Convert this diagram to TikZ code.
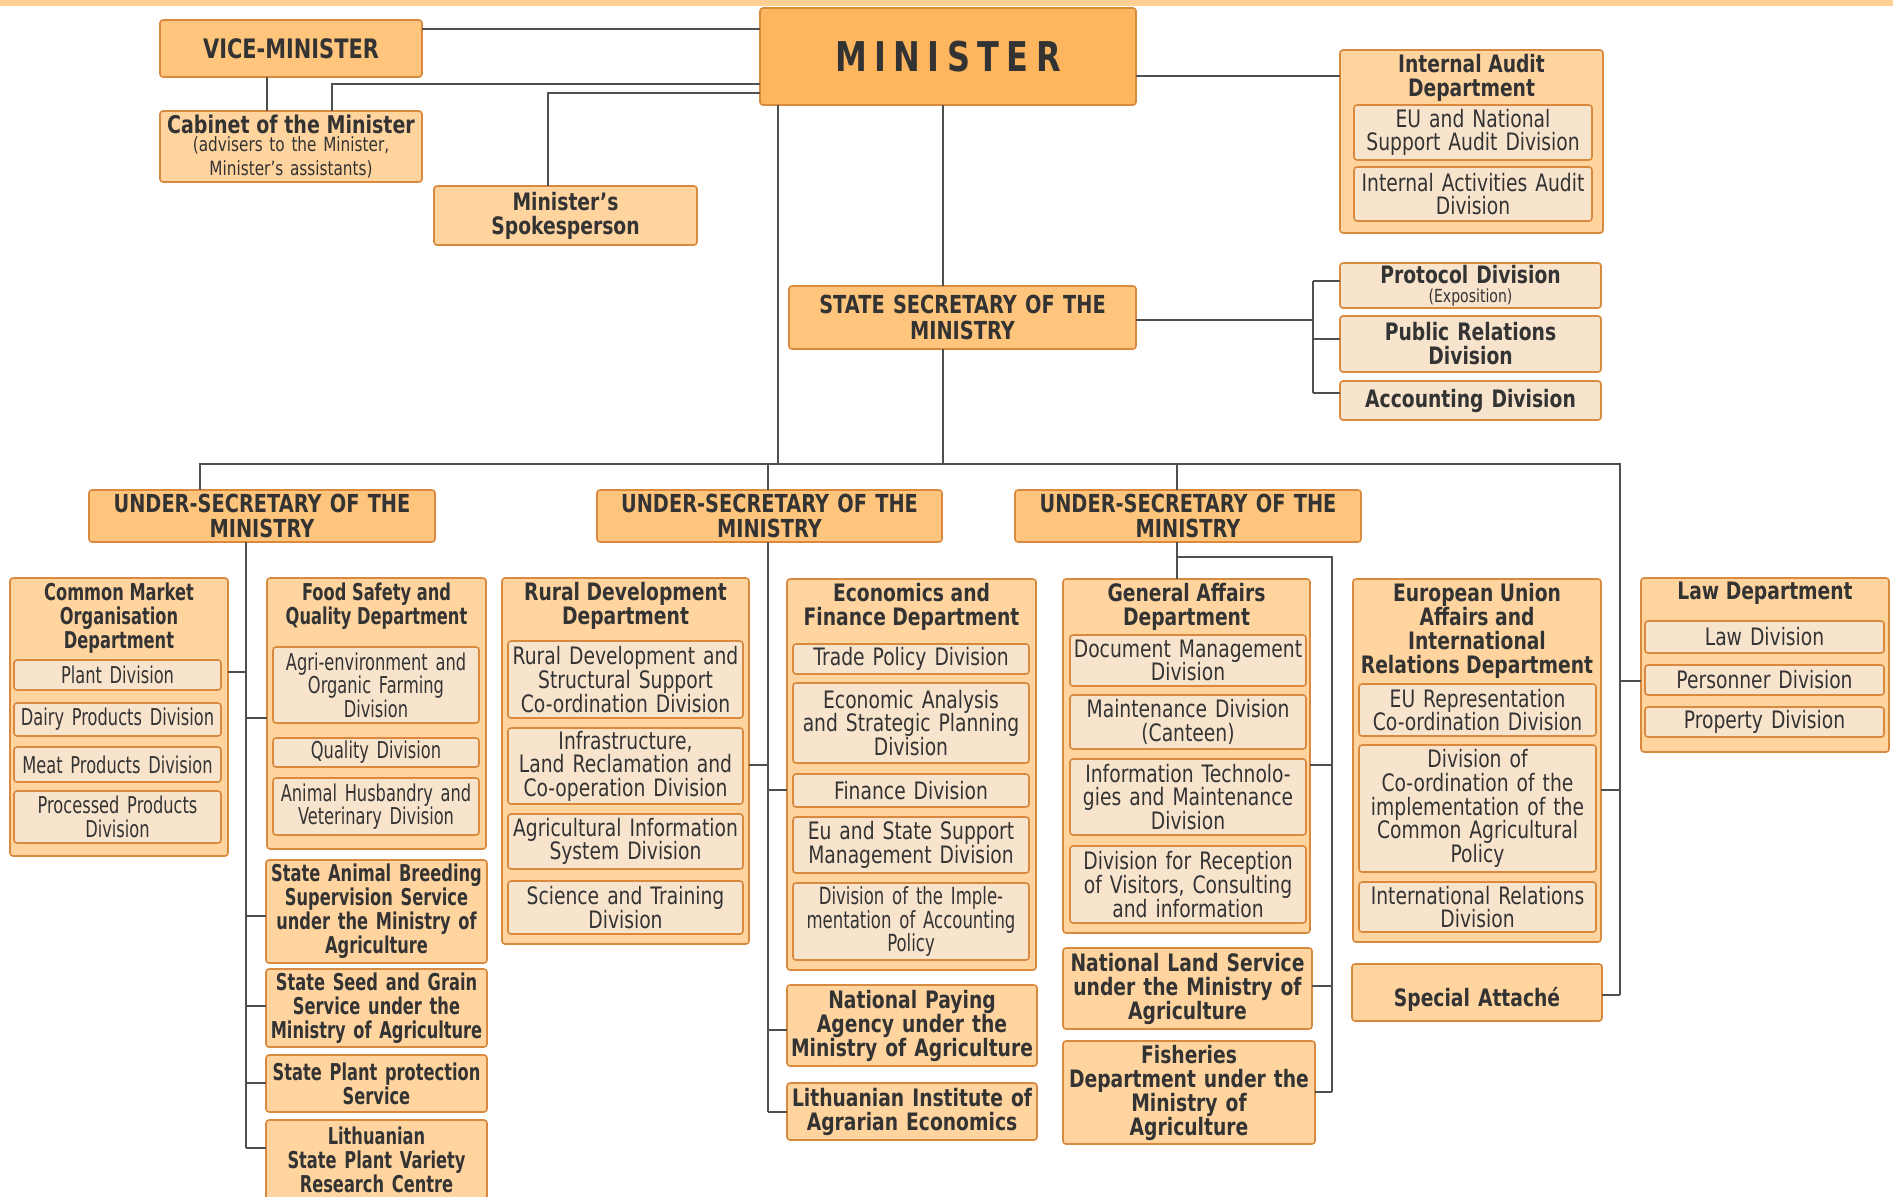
\documentclass[tikz,border=0pt]{standalone}
\usepackage{fontspec}
\setmainfont{DejaVu Sans}[FakeStretch=0.78]
\newfontfamily\narrowfam{DejaVu Sans}[FakeStretch=0.7]
\newfontfamily\minfont{DejaVu Sans}[FakeStretch=0.78,LetterSpace=18]

\definecolor{bandorange}{HTML}{FFCF94}
\definecolor{minorange}{HTML}{FDB65E}
\definecolor{toporange}{HTML}{FFC57C}
\definecolor{deptorange}{HTML}{FFD49F}
\definecolor{divbeige}{HTML}{F8E4CC}
\definecolor{edgeorange}{HTML}{D98A3E}
\definecolor{linegray}{HTML}{4F4F4F}
\definecolor{txtgray}{HTML}{333333}

\tikzset{
  boxbase/.style={draw=edgeorange,line width=0.8pt,rounded corners=1.5pt,
    inner sep=1pt,outer sep=0pt,align=center,text=txtgray},
  minbox/.style={boxbase,fill=minorange,font=\minfont\bfseries\fontsize{20.5}{22}\selectfont},
  topbox/.style={boxbase,fill=toporange,font=\bfseries\fontsize{12.4}{12.6}\selectfont},
  deptbox/.style={boxbase,fill=deptorange},
  svcbox/.style={boxbase,fill=deptorange,font=\bfseries\fontsize{12}{12}\selectfont},
  unitbox/.style={boxbase,fill=divbeige,font=\bfseries\fontsize{12}{12}\selectfont},
  divbox/.style={boxbase,fill=divbeige,font=\fontsize{12}{11.8}\selectfont},
  ldivbox/.style={divbox,font=\narrowfam\fontsize{11.6}{11.8}\selectfont},
  lsvcbox/.style={svcbox,font=\narrowfam\bfseries\fontsize{11.6}{12}\selectfont},
  headtxt/.style={anchor=north,inner sep=1pt,align=center,text=txtgray,
    font=\bfseries\fontsize{12}{12}\selectfont},
  lheadtxt/.style={headtxt,font=\narrowfam\bfseries\fontsize{11.6}{12}\selectfont},
  link/.style={draw=linegray,line width=1pt}
}

% box from its corners, in pixels of the picture
\newcommand{\orgbox}[7]{%
  \pgfmathsetmacro\orgW{(#5-#3)*0.5-2}%
  \pgfmathsetmacro\orgH{(#6-#4)*0.5}%
  \node[#1,text width=\orgW pt,minimum height=\orgH pt] (#2) at ({(#3+#5)/2},{(#4+#6)/2}) {#7};}
\newcommand{\orghead}[3][headtxt]{\node[#1] (#2-head) at ([yshift=-1pt]#2.north) {#3};}

\begin{document}
\begin{tikzpicture}[x=0.5pt,y=-0.5pt]
\useasboundingbox (0,0) rectangle (1893,1196);
\clip (0,0) rectangle (1893,1196);
\fill[bandorange] (0,0) rectangle (1893,6);

% top of the ministry
\orgbox{minbox}{minister}{760}{8}{1136}{105}{MINISTER}
\orgbox{topbox,font=\bfseries\fontsize{13.4}{14}\selectfont}{vice}{160}{20}{422}{77}{VICE-MINISTER}
\orgbox{deptbox}{cabinet}{160}{111}{422}{182}{{\bfseries\fontsize{12.2}{12.5}\selectfont Cabinet of the Minister\par}\fontsize{9.8}{9}\selectfont (advisers to the Minister,\\Minister’s assistants)}
\orgbox{svcbox}{spokes}{434}{186}{697}{245}{Minister’s\\Spokesperson}
\orgbox{deptbox}{audit}{1340}{50}{1603}{233}{}
\orghead{audit}{Internal Audit\\Department}
\orgbox{divbox}{audit1}{1354}{105}{1592}{160}{EU and National\\Support Audit Division}
\orgbox{divbox}{audit2}{1354}{167}{1592}{221}{Internal Activities Audit\\Division}
\orgbox{topbox}{statesec}{789}{286}{1136}{349}{STATE SECRETARY OF THE\\MINISTRY}
\orgbox{unitbox}{protocol}{1340}{264}{1601}{307}{Protocol Division\\[-2.5pt]{\mdseries\fontsize{9}{9}\selectfont(Exposition)}}
\orgbox{unitbox}{pr}{1340}{316}{1601}{372}{Public Relations\\Division}
\orgbox{unitbox}{acct}{1340}{381}{1601}{420}{Accounting Division}

\orgbox{topbox}{us1}{89}{490}{435}{542}{UNDER-SECRETARY OF THE\\MINISTRY}
\orgbox{topbox}{us2}{597}{490}{942}{542}{UNDER-SECRETARY OF THE\\MINISTRY}
\orgbox{topbox}{us3}{1015}{490}{1361}{542}{UNDER-SECRETARY OF THE\\MINISTRY}

% first under-secretary
\orgbox{deptbox}{cmo}{10}{578}{228}{856}{}
\orghead[lheadtxt]{cmo}{Common Market\\Organisation\\Department}
\orgbox{ldivbox}{plant}{14}{660}{221}{690}{Plant Division}
\orgbox{ldivbox}{dairy}{14}{703}{221}{736}{Dairy Products Division}
\orgbox{ldivbox}{meat}{14}{747}{221}{782}{Meat Products Division}
\orgbox{ldivbox}{processed}{14}{791}{221}{843}{Processed Products\\Division}
\orgbox{deptbox}{food}{267}{578}{486}{849}{}
\orghead[lheadtxt]{food}{Food Safety and\\Quality Department}
\orgbox{ldivbox}{agri}{273}{647}{479}{723}{Agri-environment and\\Organic Farming\\Division}
\orgbox{ldivbox}{quality}{273}{738}{479}{767}{Quality Division}
\orgbox{ldivbox}{husbandry}{273}{778}{479}{835}{Animal Husbandry and\\Veterinary Division}
\orgbox{lsvcbox}{breed}{266}{860}{487}{963}{State Animal Breeding\\Supervision Service\\under the Ministry of\\Agriculture}
\orgbox{lsvcbox}{seed}{266}{969}{487}{1047}{State Seed and Grain\\Service under the\\Ministry of Agriculture}
\orgbox{lsvcbox}{plantprot}{266}{1055}{487}{1112}{State Plant protection\\Service}
\orgbox{lsvcbox}{variety}{266}{1120}{487}{1200}{Lithuanian\\State Plant Variety\\Research Centre}

% second under-secretary
\orgbox{deptbox}{rural}{502}{578}{749}{944}{}
\orghead{rural}{Rural Development\\Department}
\orgbox{divbox}{rdss}{508}{641}{743}{718}{Rural Development and\\Structural Support\\Co-ordination Division}
\orgbox{divbox}{infra}{508}{728}{743}{804}{Infrastructure,\\Land Reclamation and\\Co-operation Division}
\orgbox{divbox}{agis}{508}{814}{743}{869}{Agricultural Information\\System Division}
\orgbox{divbox}{science}{508}{881}{743}{934}{Science and Training\\Division}
\orgbox{deptbox}{econ}{787}{579}{1036}{970}{}
\orghead{econ}{Economics and\\Finance Department}
\orgbox{divbox}{trade}{793}{644}{1029}{674}{Trade Policy Division}
\orgbox{divbox}{analysis}{793}{683}{1029}{763}{Economic Analysis\\and Strategic Planning\\Division}
\orgbox{divbox}{finance}{793}{774}{1029}{807}{Finance Division}
\orgbox{divbox}{support}{793}{817}{1029}{873}{Eu and State Support\\Management Division}
\orgbox{divbox,font=\narrowfam\fontsize{11.8}{11.8}\selectfont}{accpol}{793}{883}{1029}{960}{Division of the Imple-\\mentation of Accounting\\Policy}
\orgbox{svcbox}{paying}{787}{985}{1037}{1066}{National Paying\\Agency under the\\Ministry of Agriculture}
\orgbox{svcbox}{inst}{787}{1083}{1037}{1140}{Lithuanian Institute of\\Agrarian Economics}

% third under-secretary
\orgbox{deptbox}{gen}{1063}{579}{1310}{933}{}
\orghead{gen}{General Affairs\\Department}
\orgbox{divbox}{docman}{1070}{635}{1306}{686}{Document Management\\Division}
\orgbox{divbox}{maint}{1070}{695}{1306}{749}{Maintenance Division\\(Canteen)}
\orgbox{divbox}{ittech}{1070}{759}{1306}{835}{Information Technolo-\\gies and Maintenance\\Division}
\orgbox{divbox}{recep}{1070}{846}{1306}{923}{Division for Reception\\of Visitors, Consulting\\and information}
\orgbox{svcbox}{land}{1063}{948}{1312}{1029}{National Land Service\\under the Ministry of\\Agriculture}
\orgbox{svcbox}{fish}{1063}{1041}{1315}{1144}{Fisheries\\Department under the\\Ministry of\\Agriculture}

% right column
\orgbox{deptbox}{eu}{1353}{579}{1601}{942}{}
\orghead{eu}{European Union\\Affairs and\\International\\Relations Department}
\orgbox{divbox}{eurep}{1359}{684}{1596}{736}{EU Representation\\Co-ordination Division}
\orgbox{divbox}{cap}{1359}{745}{1596}{872}{Division of\\Co-ordination of the\\implementation of the\\Common Agricultural\\Policy}
\orgbox{divbox}{intrel}{1359}{882}{1596}{932}{International Relations\\Division}
\orgbox{svcbox}{attache}{1352}{964}{1602}{1021}{\rule{0pt}{16pt}Special Attaché}
\orgbox{deptbox}{law}{1641}{578}{1889}{752}{}
\orghead{law}{Law Department}
\orgbox{divbox}{lawdiv}{1645}{621}{1884}{653}{Law Division}
\orgbox{divbox}{pers}{1645}{665}{1884}{695}{Personner Division}
\orgbox{divbox}{prop}{1645}{707}{1884}{737}{Property Division}

% connectors at the top
\draw[link] (vice.east |- 0,29) -- (minister.west |- 0,29);
\draw[link] (vice.south -| 267,0) -- (cabinet.north -| 267,0);
\draw[link] (minister.west |- 0,84) -| (cabinet.north -| 332,0);
\draw[link] (minister.west |- 0,93) -| (spokes.north -| 548,0);
\draw[link] (minister.east |- 0,76) -- (audit.west |- 0,76);
\draw[link] (minister.south -| 943,0) -- (statesec.north -| 943,0);
\draw[link] (statesec.south -| 943,0) -- (943,464);
\draw[link] (minister.south -| 778,0) -- (778,464);
\draw[link] (statesec.east |- 0,320) -- (1313,320);
\draw[link] (1313,281) -- (1313,393);
\foreach \n/\y in {protocol/281,pr/339,acct/393}
  \draw[link] (1313,\y) -- (\n.west |- 0,\y);

% bus to the under-secretaries
\draw[link] (us1.north -| 200,0) |- (1620,464) -- (1620,995);
\draw[link] (768,464) -- (us2.north -| 768,0);
\draw[link] (1177,464) -- (us3.north -| 1177,0);
\draw[link] (1620,681) -- (law.west |- 0,681);
\foreach \n/\y in {eu/790,attache/995}
  \draw[link] (\n.east |- 0,\y) -- (1620,\y);

% first under-secretary
\draw[link] (us1.south -| 246,0) -- (246,1148);
\draw[link] (cmo.east |- 0,672) -- (246,672);
\foreach \n/\y in {food/718,breed/916,seed/1006,plantprot/1083,variety/1148}
  \draw[link] (246,\y) -- (\n.west |- 0,\y);

% second under-secretary
\draw[link] (us2.south -| 768,0) -- (768,1112);
\draw[link] (rural.east |- 0,765) -- (768,765);
\foreach \n/\y in {econ/790,paying/1030,inst/1112}
  \draw[link] (768,\y) -- (\n.west |- 0,\y);

% third under-secretary
\draw[link] (us3.south -| 1177,0) -- (gen.north -| 1177,0);
\draw[link] (1177,557) -- (1332,557) -- (1332,1092);
\foreach \n/\y in {gen/765,land/986,fish/1092}
  \draw[link] (\n.east |- 0,\y) -- (1332,\y);
\end{tikzpicture}
\end{document}
